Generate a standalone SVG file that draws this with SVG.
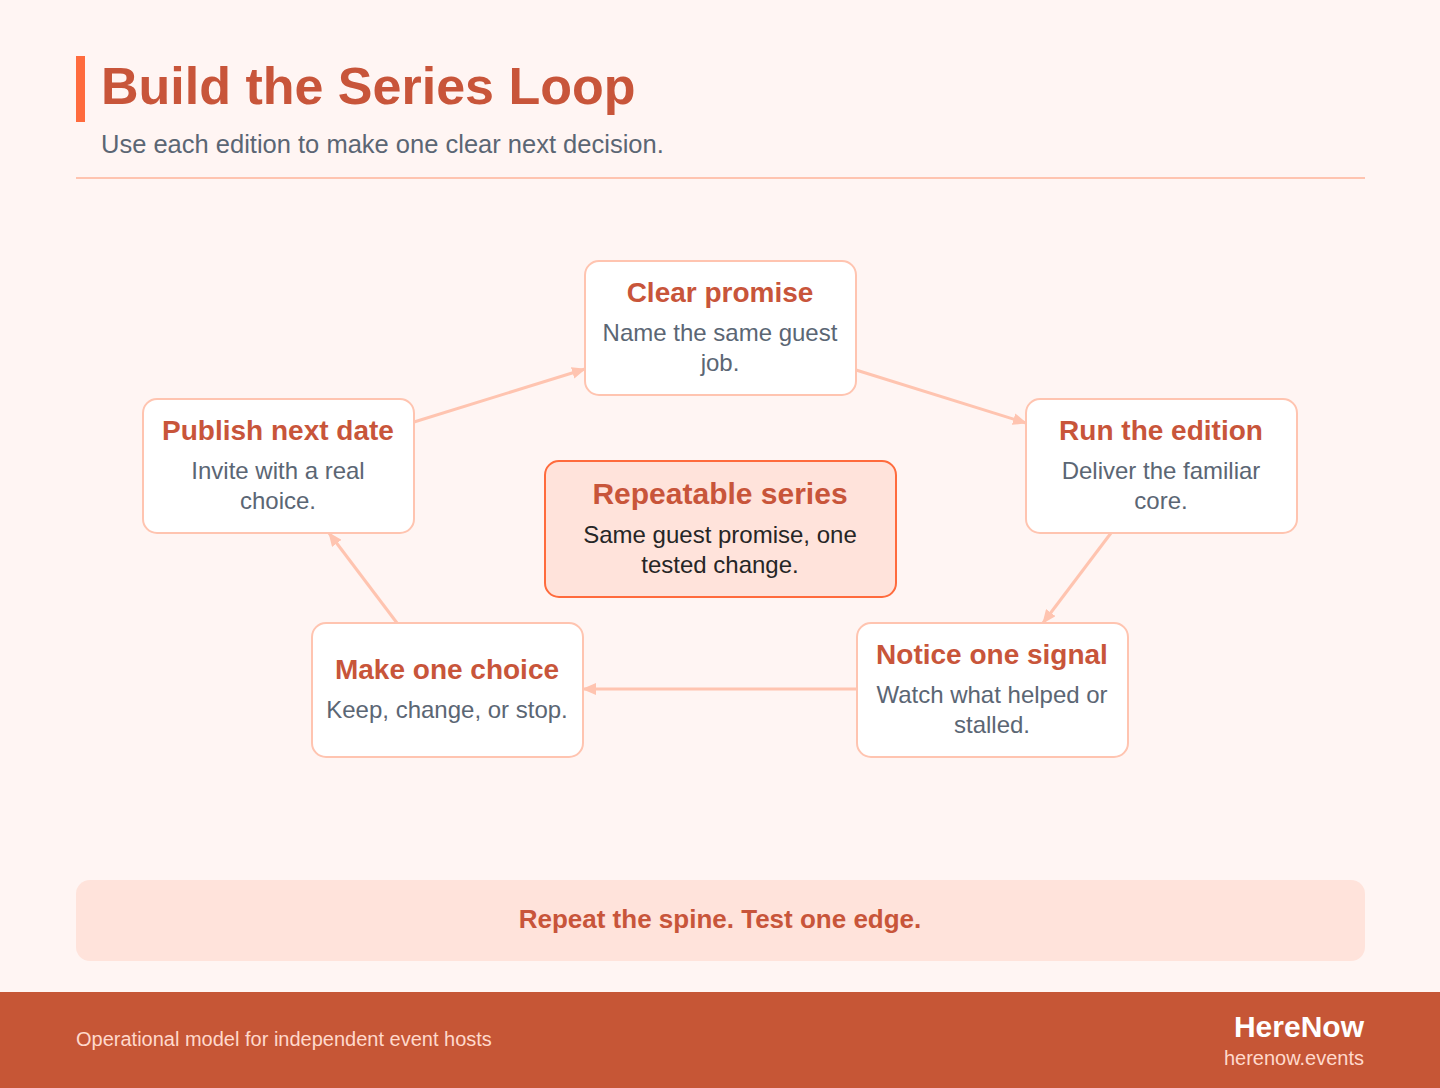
<svg xmlns="http://www.w3.org/2000/svg" width="1440" height="1088" viewBox="0 0 1440 1088">
  <style>
    .bg { fill: #FFF5F3; }
    .node rect { fill: #FFFFFF; stroke: #FFC4B0; stroke-width: 2; }
    .hub rect { fill: #FFE3DB; stroke: #FF6B3D; stroke-width: 2; }
    .nt { font-family: "Liberation Sans", Arial, sans-serif; font-weight: bold; font-size: 28px; fill: #C8553A; text-anchor: middle; }
    .nb { font-family: "Liberation Sans", Arial, sans-serif; font-size: 24px; fill: #5B6674; text-anchor: middle; }
    .hb { font-family: "Liberation Sans", Arial, sans-serif; font-size: 24px; fill: #262626; text-anchor: middle; }
    .edge { stroke: #FFC4B0; stroke-width: 3; fill: none; marker-end: url(#arrow); }
  </style>
  <defs>
    <marker id="arrow" viewBox="0 0 14 12" refX="13" refY="6" markerWidth="14" markerHeight="12" markerUnits="userSpaceOnUse" orient="auto">
      <path d="M0,0 L14,6 L0,12 z" fill="#FFC4B0"/>
    </marker>
  </defs>
  <rect class="bg" x="0" y="0" width="1440" height="1088"/>

  <g id="header">
    <rect x="76" y="56" width="9" height="66" fill="#FF6B3D"/>
    <text x="101" y="104" font-family="'Liberation Sans', Arial, sans-serif" font-weight="bold" font-size="52" fill="#C8553A">Build the Series Loop</text>
    <text x="101" y="153" font-family="'Liberation Sans', Arial, sans-serif" font-size="25.5" fill="#5B6674">Use each edition to make one clear next decision.</text>
    <rect x="76" y="177" width="1289" height="2" fill="#FFC4B0"/>
  </g>

  <g id="connectors">
    <line class="edge" x1="414" y1="422" x2="585" y2="369"/>
    <line class="edge" x1="856" y1="370" x2="1026" y2="423"/>
    <line class="edge" x1="1111" y1="533" x2="1043" y2="623"/>
    <line class="edge" x1="857" y1="689" x2="583" y2="689"/>
    <line class="edge" x1="397" y1="623" x2="329" y2="533"/>
  </g>

  <g id="node-clear-promise" class="node">
    <rect x="585" y="261" width="271" height="134" rx="14"/>
    <text class="nt" x="720" y="302">Clear promise</text>
    <text class="nb" x="720" y="341">Name the same guest</text>
    <text class="nb" x="720" y="371">job.</text>
  </g>

  <g id="node-run-edition" class="node">
    <rect x="1026" y="399" width="271" height="134" rx="14"/>
    <text class="nt" x="1161" y="440">Run the edition</text>
    <text class="nb" x="1161" y="479">Deliver the familiar</text>
    <text class="nb" x="1161" y="509">core.</text>
  </g>

  <g id="node-notice-signal" class="node">
    <rect x="857" y="623" width="271" height="134" rx="14"/>
    <text class="nt" x="992" y="664">Notice one signal</text>
    <text class="nb" x="992" y="703">Watch what helped or</text>
    <text class="nb" x="992" y="733">stalled.</text>
  </g>

  <g id="node-make-choice" class="node">
    <rect x="312" y="623" width="271" height="134" rx="14"/>
    <text class="nt" x="447" y="679">Make one choice</text>
    <text class="nb" x="447" y="718">Keep, change, or stop.</text>
  </g>

  <g id="node-publish-date" class="node">
    <rect x="143" y="399" width="271" height="134" rx="14"/>
    <text class="nt" x="278" y="440">Publish next date</text>
    <text class="nb" x="278" y="479">Invite with a real</text>
    <text class="nb" x="278" y="509">choice.</text>
  </g>

  <g id="node-repeatable-series" class="hub">
    <rect x="545" y="461" width="351" height="136" rx="14"/>
    <text class="nt" x="720" y="504" style="font-size:30px">Repeatable series</text>
    <text class="hb" x="720" y="543">Same guest promise, one</text>
    <text class="hb" x="720" y="573">tested change.</text>
  </g>

  <g id="banner">
    <rect x="76" y="880" width="1289" height="81" rx="14" fill="#FFE3DB"/>
    <text x="720" y="928" text-anchor="middle" font-family="'Liberation Sans', Arial, sans-serif" font-weight="bold" font-size="26" fill="#C8553A">Repeat the spine. Test one edge.</text>
  </g>

  <g id="footer">
    <rect x="0" y="992" width="1440" height="96" fill="#C65636"/>
    <text x="76" y="1046" font-family="'Liberation Sans', Arial, sans-serif" font-size="20" fill="#FFD9CC">Operational model for independent event hosts</text>
    <text x="1364" y="1037" text-anchor="end" font-family="'Liberation Sans', Arial, sans-serif" font-weight="bold" font-size="30" fill="#FFFFFF">HereNow</text>
    <text x="1364" y="1065" text-anchor="end" font-family="'Liberation Sans', Arial, sans-serif" font-size="20" fill="#FFD9CC">herenow.events</text>
  </g>
</svg>
